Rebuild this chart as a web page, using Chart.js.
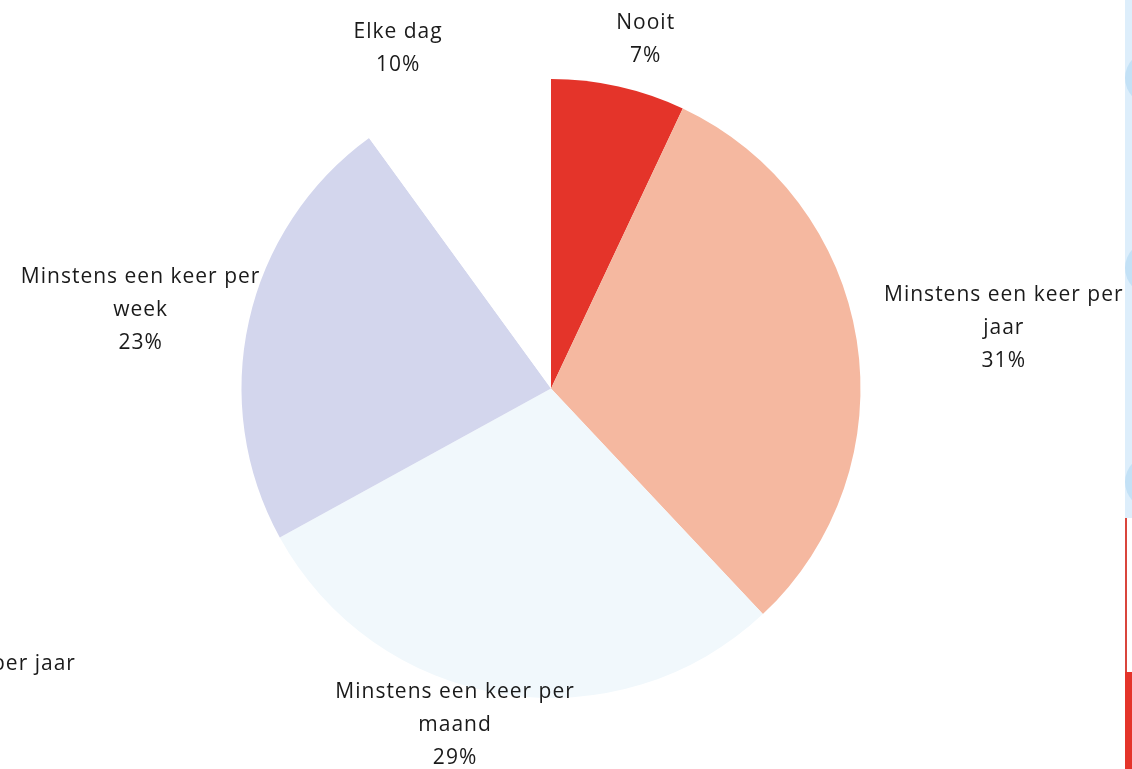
<!DOCTYPE html>
<html>
<head>
<meta charset="utf-8">
<script src="https://cdn.jsdelivr.net/npm/chart.js@4.4.1/dist/chart.umd.min.js"></script>
<style>
  html, body { margin: 0; padding: 0; background: #ffffff; }
  #wrap { width: 1132px; height: 769px; position: relative; }
</style>
</head>
<body>
<div id="wrap"><canvas id="c" width="1132" height="769"></canvas></div>
<script>
// ---- Data ----
const categories = ["Nooit", "Minstens een keer per jaar", "Minstens een keer per maand", "Minstens een keer per week", "Elke dag"];
const labelLines = [["Nooit"], ["Minstens een keer per", "jaar"], ["Minstens een keer per", "maand"], ["Minstens een keer per", "week"], ["Elke dag"]];
const percentages = [7, 31, 29, 23, 10];
const sliceColors = ["#E4342A", "#F5B8A0", "#F1F8FC", "#D3D6ED", "#FFFFFF"];

// Label placement (relative to pie centre, in units of the radius)
const labelPlacement = [
  { x: 0.306, y: -1.127 },
  { x: 1.463, y: -0.197 },
  { x: -0.310, y: 1.087 },
  { x: -1.326, y: -0.255 },
  { x: -0.494, y: -1.100 }
];

const labelPlugin = {
  id: 'outsideLabels',
  afterDatasetsDraw(chart, args, opts) {
    const ctx = chart.ctx;
    const meta = chart.getDatasetMeta(0);
    const ds = chart.data.datasets[0];
    ctx.save();
    ctx.font = opts.font;
    ctx.letterSpacing = opts.letterSpacing;
    ctx.fillStyle = opts.color;
    ctx.textAlign = 'center';
    ctx.textBaseline = 'middle';
    meta.data.forEach((arc, i) => {
      const cx = arc.x, cy = arc.y, r = arc.outerRadius;
      const p = opts.placement[i];
      const lines = opts.lines[i].concat([ds.data[i] + '%']);
      const lx = cx + p.x * r;
      const ly = cy + p.y * r;
      const lh = opts.lineHeight;
      const top = ly - (lines.length - 1) * lh / 2;
      lines.forEach((t, k) => ctx.fillText(t, lx, top + k * lh));
    });
    ctx.restore();
  }
};

// decorative remnants of neighbouring slide content at the edges
const edgePlugin = {
  id: 'edges',
  beforeDatasetsDraw(chart) {
    const ctx = chart.ctx;
    ctx.save();
    ctx.fillStyle = '#DDEEFB';
    ctx.fillRect(1125, 0, 7, 518);
    ctx.fillStyle = '#C3E1F6';
    [78, 268, 482].forEach(y => {
      ctx.beginPath();
      ctx.arc(1152, y, 27, 0, Math.PI * 2);
      ctx.fill();
    });
    ctx.fillStyle = '#D9453C';
    ctx.fillRect(1125, 518, 2, 154);
    ctx.fillStyle = '#E4342A';
    ctx.fillRect(1125, 672, 7, 97);
    ctx.font = '21px "Open Sans"';
    ctx.letterSpacing = '1px';
    ctx.fillStyle = '#1a1a1a';
    ctx.textAlign = 'left';
    ctx.textBaseline = 'middle';
    ctx.fillText('per jaar', -8, 664);
    ctx.restore();
  }
};

new Chart(document.getElementById('c'), {
  type: 'pie',
  data: {
    labels: categories,
    datasets: [{
      data: percentages,
      backgroundColor: sliceColors,
      borderWidth: 0
    }]
  },
  options: {
    responsive: false,
    animation: false,
    events: [],
    layout: { padding: { left: 241, right: 271, top: 79, bottom: 71 } },
    plugins: {
      legend: { display: false },
      tooltip: { enabled: false },
      outsideLabels: {
        font: '21px "Open Sans"',
        letterSpacing: '1px',
        color: '#1a1a1a',
        lineHeight: 33,
        placement: labelPlacement,
        lines: labelLines
      }
    }
  },
  plugins: [labelPlugin, edgePlugin]
});
</script>
</body>
</html>
